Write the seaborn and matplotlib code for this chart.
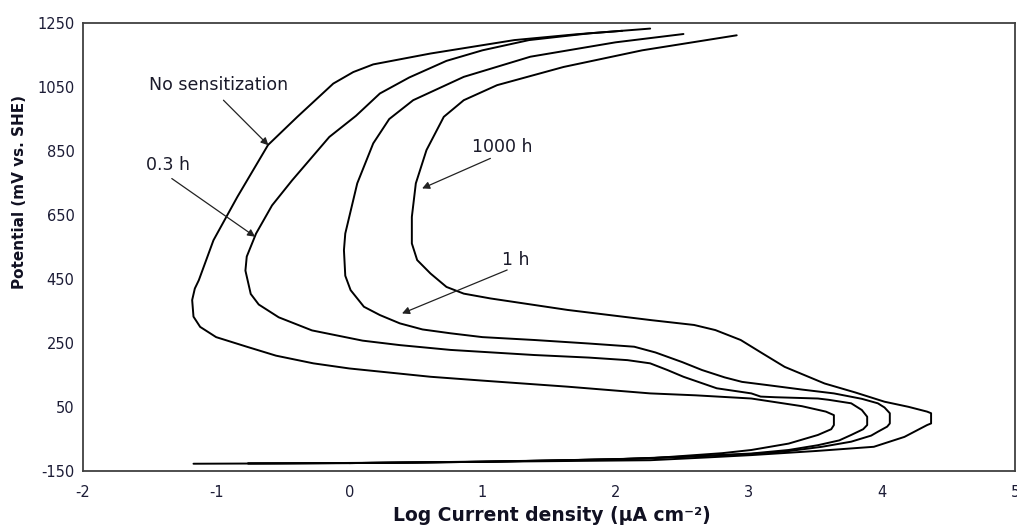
import matplotlib
matplotlib.use("Agg")
import matplotlib.pyplot as plt
import seaborn as sns
import pandas as pd

# --- 데이터 ---
# 각 곡선은 아래쪽(음극 영역)에서 시작해 코(active peak)를 돌아 위쪽으로 올라감
no_sens_x = [-1.17, -0.5, 0.5, 1.5, 2.26, 2.8, 3.02, 3.3, 3.52, 3.62, 3.64, 3.64, 3.58, 3.4,
             3.02, 2.6, 2.26, 1.64, 1.0, 0.61, 0.0, -0.27, -0.55, -0.77, -1.0, -1.12, -1.17,
             -1.18, -1.16, -1.13, -1.02, -0.84, -0.61, -0.39, -0.12, 0.03, 0.18, 0.61, 1.24,
             1.7, 2.05]
no_sens_y = [-128, -127, -124, -118, -111, -95, -85, -65, -38, -20, -7, 24, 35, 52,
             76, 86, 92, 113, 132, 144, 170, 186, 210, 238, 268, 300, 332,
             384, 420, 446, 571, 707, 869, 957, 1061, 1097, 1121, 1155, 1197,
             1215, 1226]

h03_x = [-0.76, 0.0, 1.0, 2.0, 2.5, 3.02, 3.3, 3.52, 3.68, 3.77, 3.86, 3.89, 3.89, 3.85,
         3.77, 3.6, 3.52, 3.2, 3.09, 3.02, 2.76, 2.51, 2.39, 2.26, 2.09, 1.8, 1.39, 0.76,
         0.38, 0.10, -0.28, -0.53, -0.68, -0.74, -0.78, -0.77, -0.70, -0.58, -0.43,
         -0.15, 0.05, 0.23, 0.45, 0.73, 1.0, 1.35, 1.8, 2.26]
h03_y = [-127, -126, -122, -114, -106, -96, -85, -70, -55, -38, -20, -7, 19, 40,
         61, 72, 76, 80, 82, 92, 108, 144, 165, 186, 196, 204, 212, 228,
         243, 257, 289, 330, 370, 403, 476, 520, 592, 680, 758,
         894, 960, 1030, 1080, 1132, 1165, 1197, 1218, 1233]

h1_x = [-0.76, 0.0, 1.0, 2.0, 2.5, 3.0, 3.27, 3.55, 3.77, 3.92, 3.97, 4.04, 4.06, 4.06,
        4.02, 3.97, 3.85, 3.64, 3.4, 3.14, 2.95, 2.82, 2.65, 2.5, 2.3, 2.14, 1.8, 1.39,
        1.0, 0.76, 0.55, 0.38, 0.23, 0.11, 0.01, -0.03, -0.04, -0.03, 0.06, 0.18, 0.30,
        0.48, 0.86, 1.36, 2.0, 2.51]
h1_y = [-127, -126, -122, -114, -107, -98, -90, -75, -59, -40, -28, -12, -2, 30,
        48, 61, 75, 92, 104, 118, 128, 142, 165, 190, 220, 238, 248, 259,
        268, 280, 292, 311, 337, 363, 415, 460, 540, 592, 749, 874, 950,
        1009, 1082, 1145, 1190, 1216]

h1000_x = [0.0, 1.0, 2.26, 2.7, 3.02, 3.51, 3.94, 4.17, 4.34, 4.37, 4.37, 4.34, 4.2, 4.02,
           3.8, 3.57, 3.27, 3.1, 2.94, 2.75, 2.59, 2.27, 1.64, 1.06, 0.86, 0.73, 0.61,
           0.51, 0.47, 0.47, 0.50, 0.58, 0.71, 0.86, 1.11, 1.61, 2.2, 2.91]
h1000_y = [-126, -122, -117, -108, -101, -88, -75, -44, -7, -2, 30, 35, 50, 66,
           95, 123, 175, 218, 259, 290, 306, 321, 353, 389, 404, 425, 467,
           509, 561, 644, 749, 853, 957, 1009, 1056, 1113, 1165, 1212]

curves = [
    ("No sensitization", no_sens_x, no_sens_y),
    ("0.3 h", h03_x, h03_y),
    ("1 h", h1_x, h1_y),
    ("1000 h", h1000_x, h1000_y),
]

x_ticks = [-2, -1, 0, 1, 2, 3, 4, 5]
y_ticks = [-150, 50, 250, 450, 650, 850, 1050, 1250]

# --- 시각화 ---
sns.set_style("white")
plt.rcParams["font.family"] = ["DejaVu Sans"]
plt.rcParams["axes.unicode_minus"] = False  # 하이픈 마이너스 사용

fig = plt.figure(figsize=(10.17, 5.26), dpi=100)
ax = fig.add_axes([0.0816, 0.105, 0.9164, 0.851])

for name, xs, ys in curves:
    df = pd.DataFrame({"x": xs, "y": ys})
    sns.lineplot(data=df, x="x", y="y", sort=False, estimator=None,
                 color="black", linewidth=1.4, ax=ax)

ax.set_xlim(-2, 5)
ax.set_ylim(-150, 1250)
ax.set_xticks(x_ticks)
ax.set_yticks(y_ticks)

tick_color = "#1c1c36"
ax.tick_params(axis="both", direction="out", length=5, width=1.2,
               color="#404040", labelsize=10.5, labelcolor=tick_color)
ax.tick_params(axis="x", pad=5)
ax.tick_params(axis="y", pad=1)
for s in ax.spines.values():
    s.set_visible(True)
    s.set_color("#404040")
    s.set_linewidth(1.3)

ax.set_xlabel("Log Current density (µA cm⁻²)", fontsize=13.5, fontweight="bold",
              color="#111122")
ax.xaxis.set_label_coords(0.503, -0.078)
ax.set_ylabel("Potential (mV vs. SHE)", fontsize=11, fontweight="bold",
              color="#111122")
ax.yaxis.set_label_coords(-0.06, 0.6225)

# 주석 (라벨 + 화살표)
notes = [
    ("No sensitization", (-0.98, 1058), (-0.945, 1009), (-0.607, 868)),
    ("0.3 h", (-1.365, 806), (-1.333, 764), (-0.707, 582)),
    ("1000 h", (1.148, 863), (1.06, 827), (0.547, 733)),
    ("1 h", (1.248, 509), (1.186, 478), (0.396, 342)),
]
for label, txt_xy, start, end in notes:
    ax.text(txt_xy[0], txt_xy[1], label, ha="center", va="center",
            fontsize=12.5, color="#1a1a2a")
    ax.annotate("", xy=end, xytext=start,
                arrowprops=dict(arrowstyle="-|>", color="#222222", lw=0.9,
                                mutation_scale=11, shrinkA=0, shrinkB=0))

fig.savefig("out.png", dpi=100)
